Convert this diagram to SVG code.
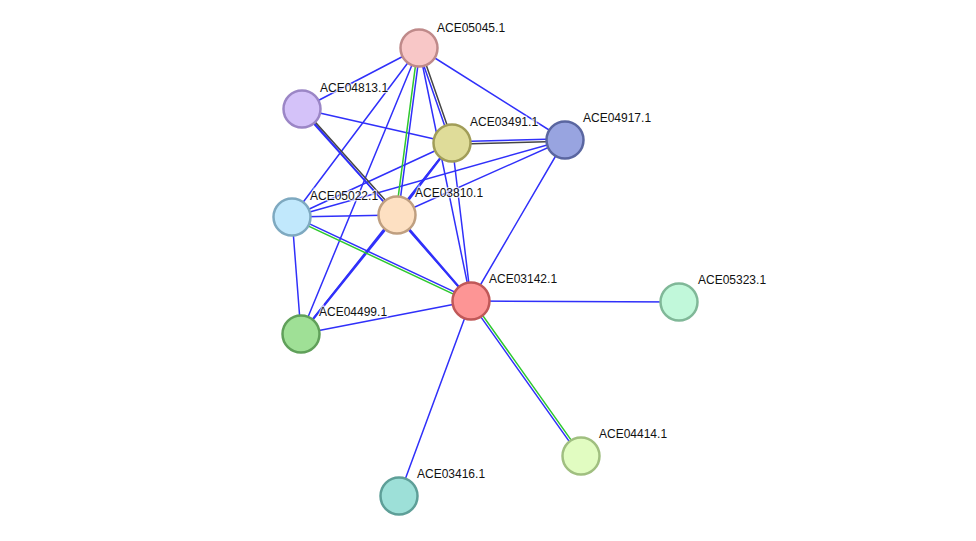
<svg xmlns="http://www.w3.org/2000/svg" width="976" height="541" viewBox="0 0 976 541">
<style>
.e{fill:none;stroke-width:1.5;stroke-linecap:round}
.w{stroke-width:2.2}
.b{stroke:#3030fa}
.g{stroke:#2ec82e}
.k{stroke:#454545}
.n{stroke-width:2.5}
.t{font-family:"Liberation Sans",Arial,sans-serif;font-size:12px;fill:#111;stroke:#fff;stroke-width:2.5;stroke-opacity:0.7;paint-order:stroke}
</style>
<rect width="976" height="541" fill="#fff"/>
<g id="edges">
<line class="e b" x1="419" y1="48" x2="302" y2="109"/>
<line class="e b" x1="419" y1="48" x2="565" y2="140"/>
<line class="e b" x1="419" y1="48" x2="471" y2="301"/>
<line class="e b" x1="419" y1="48" x2="292" y2="217"/>
<line class="e b" x1="419" y1="48" x2="301" y2="334"/>
<line class="e b" x1="302" y1="109" x2="452" y2="143"/>
<line class="e b" x1="302" y1="109" x2="471" y2="301"/>
<line class="e b" x1="452" y1="143" x2="292" y2="217"/>
<line class="e b w" x1="452" y1="143" x2="397" y2="215"/>
<line class="e b" x1="452" y1="143" x2="301" y2="334"/>
<line class="e b" x1="452" y1="143" x2="471" y2="301"/>
<line class="e b" x1="565" y1="140" x2="292" y2="217"/>
<line class="e b" x1="565" y1="140" x2="397" y2="215"/>
<line class="e b" x1="565" y1="140" x2="471" y2="301"/>
<line class="e b" x1="292" y1="217" x2="397" y2="215"/>
<line class="e b" x1="292" y1="217" x2="301" y2="334"/>
<line class="e b w" x1="397" y1="215" x2="471" y2="301"/>
<line class="e b w" x1="397" y1="215" x2="301" y2="334"/>
<line class="e b" x1="471" y1="301" x2="679" y2="302"/>
<line class="e b" x1="471" y1="301" x2="399" y2="496"/>
<line class="e b" x1="471" y1="301" x2="301" y2="334"/>
<line class="e k" x1="420.13" y1="47.61" x2="453.13" y2="142.61"/>
<line class="e b" x1="417.87" y1="48.39" x2="450.87" y2="143.39"/>
<line class="e g" x1="417.81" y1="47.84" x2="395.81" y2="214.84"/>
<line class="e b" x1="420.19" y1="48.16" x2="398.19" y2="215.16"/>
<line class="e k" x1="302.89" y1="108.2" x2="397.89" y2="214.2"/>
<line class="e b" x1="301.11" y1="109.8" x2="396.11" y2="215.8"/>
<line class="e b" x1="451.97" y1="141.8" x2="564.97" y2="138.8"/>
<line class="e k" x1="452.03" y1="144.2" x2="565.03" y2="141.2"/>
<line class="e b" x1="292.51" y1="215.91" x2="471.51" y2="299.91"/>
<line class="e g" x1="291.49" y1="218.09" x2="470.49" y2="302.09"/>
<line class="e g" x1="471.98" y1="300.31" x2="581.98" y2="455.31"/>
<line class="e b" x1="470.02" y1="301.69" x2="580.02" y2="456.69"/>
</g>
<g id="ACE05045.1"><circle class="n" cx="419" cy="48" r="18.5" fill="#f8c7c7" stroke="#bf8a8a"/><text class="t" x="437" y="32">ACE05045.1</text></g>
<g id="ACE04813.1"><circle class="n" cx="302" cy="109" r="18.5" fill="#d4c2f9" stroke="#9b86c6"/><text class="t" x="320" y="92">ACE04813.1</text></g>
<g id="ACE03491.1"><circle class="n" cx="452" cy="143" r="18.5" fill="#dfdc99" stroke="#a19d58"/><text class="t" x="470" y="126">ACE03491.1</text></g>
<g id="ACE04917.1"><circle class="n" cx="565" cy="140" r="18.5" fill="#98a4e0" stroke="#5a66a0"/><text class="t" x="583" y="122">ACE04917.1</text></g>
<g id="ACE05022.1"><circle class="n" cx="292" cy="217" r="18.5" fill="#c1e8fc" stroke="#7ea9c0"/><text class="t" x="310" y="200">ACE05022.1</text></g>
<g id="ACE03810.1"><circle class="n" cx="397" cy="215" r="18.5" fill="#fde0c2" stroke="#bf9f80"/><text class="t" x="415" y="197">ACE03810.1</text></g>
<g id="ACE03142.1"><circle class="n" cx="471" cy="301" r="18.5" fill="#fd9595" stroke="#c05858"/><text class="t" x="489" y="283">ACE03142.1</text></g>
<g id="ACE05323.1"><circle class="n" cx="679" cy="302" r="18.5" fill="#c1f8da" stroke="#80b898"/><text class="t" x="698" y="284">ACE05323.1</text></g>
<g id="ACE04499.1"><circle class="n" cx="301" cy="334" r="18.5" fill="#9fe096" stroke="#60a05a"/><text class="t" x="319" y="316">ACE04499.1</text></g>
<g id="ACE04414.1"><circle class="n" cx="581" cy="456" r="18.5" fill="#e1fcc1" stroke="#a0bf80"/><text class="t" x="599" y="438">ACE04414.1</text></g>
<g id="ACE03416.1"><circle class="n" cx="399" cy="496" r="18.5" fill="#9de0d8" stroke="#5e9f98"/><text class="t" x="417" y="478">ACE03416.1</text></g>
</svg>
